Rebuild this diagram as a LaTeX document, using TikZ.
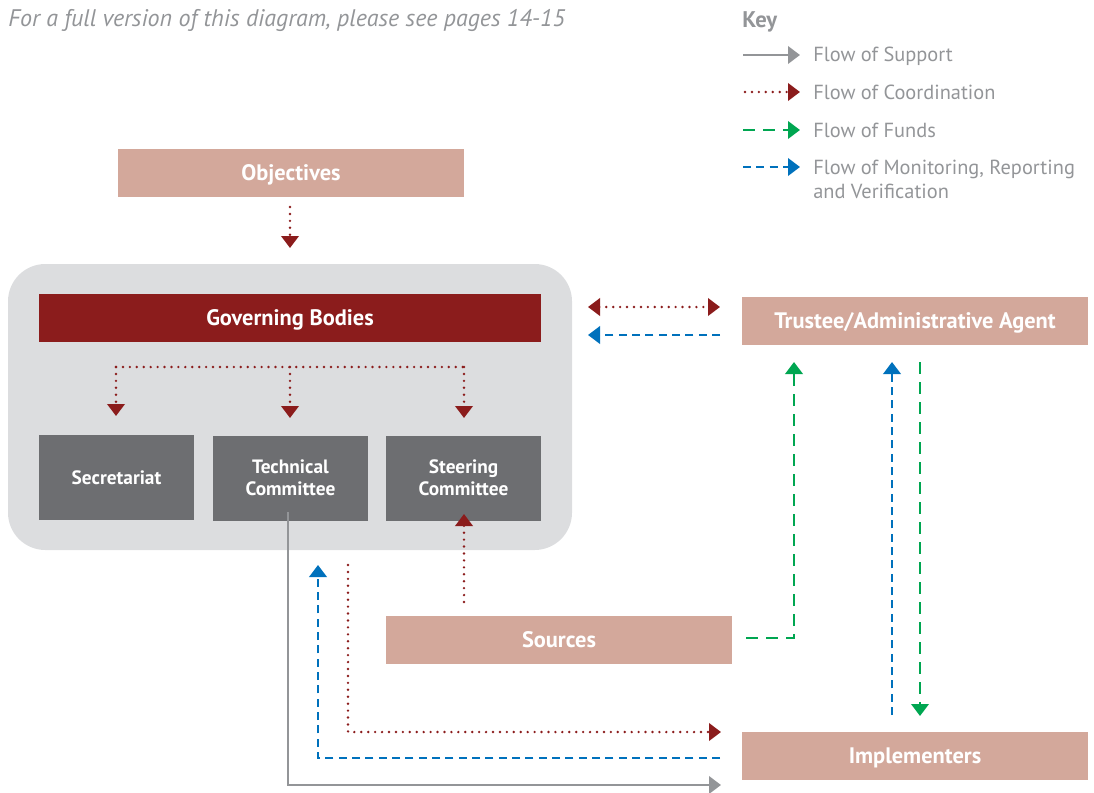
\documentclass[tikz,border=0pt]{standalone}
\usepackage{fontspec}
\setmainfont{PT Sans}
\usetikzlibrary{arrows.meta}
\definecolor{cRed}{HTML}{8B1C1C}
\definecolor{cTan}{HTML}{D3A89B}
\definecolor{cDark}{HTML}{6D6E71}
\definecolor{cPanel}{HTML}{DCDDDF}
\definecolor{cGreen}{HTML}{00A651}
\definecolor{cBlue}{HTML}{0071BC}
\definecolor{cGray}{HTML}{939598}
\tikzset{
  tanbox/.style={fill=cTan, text=white, font=\bfseries\fontsize{16.8}{19}\selectfont, minimum width=259.5pt, minimum height=36pt, inner sep=0pt, text height=11.8pt, text depth=0pt},
  darkbox/.style={fill=cDark, text=white, font=\bfseries\fontsize{14.5}{16.5}\selectfont, minimum width=116.25pt, minimum height=63.75pt, inner sep=0pt, align=center},
  tip/.style={-{Triangle[length=9pt,width=13pt]}},
  supp/.style={tip, draw=cGray, line width=2pt},
  coord/.style={tip, draw=cRed, line width=2pt, line cap=round, dash pattern=on 0pt off 5.2pt},
  coordtip/.style={draw=cRed, line width=2pt, line cap=round, dash pattern=on 0pt off 5.2pt},
  fund/.style={tip, draw=cGreen, line width=2pt, dash pattern=on 9pt off 6pt},
  mrv/.style={tip, draw=cBlue, line width=2pt, dash pattern=on 6pt off 4pt},
  keytext/.style={text=cGray, font=\fontsize{15.3}{17.5}\selectfont, anchor=west, inner sep=0pt, align=left},
}
\begin{document}
\begin{tikzpicture}[x=0.75pt,y=-0.75pt]
\useasboundingbox (0,0) rectangle (1094,792);
% header
\node[text=cGray, font=\itshape\fontsize{18}{21}\selectfont, anchor=west, inner sep=0pt] (hdr) at (8,21) {For a full version of this diagram, please see pages 14-15};
% key
\node[text=cGray, font=\bfseries\fontsize{17}{20}\selectfont, anchor=west, inner sep=0pt] (key) at (742,22) {Key};
\coordinate (k1a) at (743,55); \coordinate (k1b) at (800,55);
\coordinate (k2a) at (745,92); \coordinate (k2b) at (800,92);
\coordinate (k3a) at (743,130); \coordinate (k3b) at (800,130);
\coordinate (k4a) at (743,167); \coordinate (k4b) at (800,167);
\draw[supp] (k1a) -- (k1b);
\draw[coord] (k2a) -- (k2b);
\draw[fund] (k3a) -- (k3b);
\draw[mrv] (k4a) -- (k4b);
\node[keytext] (t1) at (813,56) {Flow of Support};
\node[keytext] (t2) at (813,92) {Flow of Coordination};
\node[keytext] (t3) at (813,130) {Flow of Funds};
\node[keytext, anchor=north west] (t4) at (813,160) {Flow of Monitoring, Reporting\\and Verification};
% panel
\node[fill=cPanel, rounded corners=28pt, minimum width=423pt, minimum height=214.5pt, inner sep=0pt] (grp) at (290,407) {};
% boxes
\node[tanbox] (obj) at (291,173) {Objectives};
\node[tanbox, fill=cRed, minimum width=376.5pt] (gov) at (290,318) {Governing Bodies};
\node[darkbox] (sec) at (116.5,477.5) {Secretariat};
\node[darkbox] (tec) at (290.5,478) {Technical\\Committee};
\node[darkbox] (ste) at (463.5,478) {Steering\\Committee};
\node[tanbox] (tru) at (915,321) {Trustee/Administrative Agent};
\node[tanbox] (src) at (559,640) {Sources};
\node[tanbox] (imp) at (915,756) {Implementers};
% objectives -> panel
\coordinate (o1) at (290,207); \coordinate (o2) at (290,248);
\draw[coord] (o1) -- (o2);
% governing tree
\coordinate (gA) at (116,367); \coordinate (gB) at (290,367); \coordinate (gC) at (464,367);
\coordinate (gA2) at (116,416); \coordinate (gB2) at (290,418); \coordinate (gC2) at (464,418);
\draw[coordtip] (gA) -- (gC);
\draw[coord] (gA) -- (gA2);
\draw[coord] (gB) -- (gB2);
\draw[coord] (gC) -- (gC2);
% panel <-> trustee
\coordinate (p1) at (588,307); \coordinate (p2) at (720,307);
\coordinate (p3) at (720,335); \coordinate (p4) at (588,335);
\draw[coord, {Triangle[length=9pt,width=13pt]}-{Triangle[length=9pt,width=13pt]}] (p1) -- (p2);
\draw[mrv] (p3) -- (p4);
% sources -> steering
\coordinate (s1) at (464,602); \coordinate (s2) at (464,514);
\draw[coord] (s1) -- (s2);
% sources -> trustee (funds)
\coordinate (f1) at (746,638); \coordinate (f2) at (794,638); \coordinate (f3) at (794,362);
\draw[fund] (f1) -- (f2) -- (f3);
% trustee <-> implementers
\coordinate (m1) at (892,715); \coordinate (m2) at (892,362);
\draw[mrv] (m1) -- (m2);
\coordinate (n1) at (920,362); \coordinate (n2) at (920,716);
\draw[fund] (n1) -- (n2);
% technical committee -> implementers (support)
\coordinate (q1) at (288,512); \coordinate (q2) at (288,785); \coordinate (q3) at (721,785);
\draw[supp] (q1) -- (q2) -- (q3);
% implementers -> panel (mrv)
\coordinate (r1) at (720,758); \coordinate (r2) at (318,758); \coordinate (r3) at (318,565);
\draw[mrv] (r1) -- (r2) -- (r3);
% coordination panel -> implementers
\coordinate (c1) at (348,565); \coordinate (c2) at (348,732); \coordinate (c3) at (721,732);
\draw[coord] (c1) -- (c2) -- (c3);
\end{tikzpicture}
\end{document}
